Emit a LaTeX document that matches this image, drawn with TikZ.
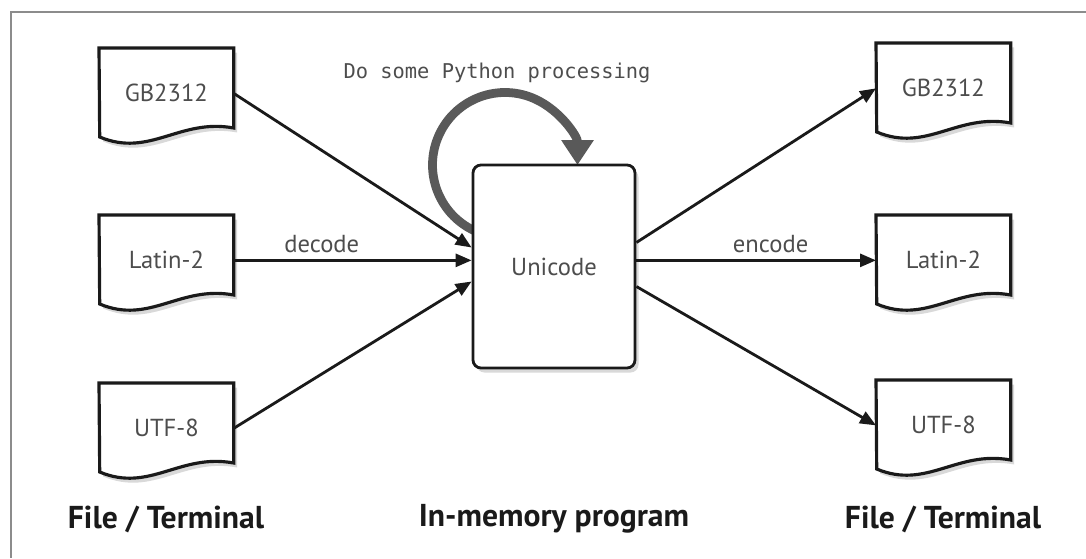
\documentclass[tikz,border=0pt]{standalone}
\usepackage{fontspec}
\setsansfont{PT Sans}
\setmonofont{DejaVu Sans Mono}
\usetikzlibrary{arrows.meta,shadows,backgrounds}

\definecolor{inkgray}{HTML}{4D4D4D}
\definecolor{loopgray}{HTML}{595959}
\definecolor{framegray}{HTML}{8C8C8C}
\definecolor{linegray}{HTML}{1A1A1A}

\tikzset{
  docnode/.style={minimum width=2.68cm, minimum height=1.8cm, inner sep=0pt,
    anchor=north west, font=\sffamily\fontsize{14}{16}\selectfont, text=inkgray},
  docline/.style={draw=linegray, line width=1.8pt, fill=white,
    drop shadow={shadow xshift=0.07cm, shadow yshift=-0.09cm, opacity=0.3}},
  flow/.style={draw=linegray, line width=1.6pt, -{Triangle[length=3.2mm,width=2.6mm]}},
  verb/.style={font=\sffamily\fontsize{14}{16}\selectfont, text=inkgray},
  caption/.style={font=\sffamily\bfseries\fontsize{18}{21}\selectfont, text=linegray},
}

% page with a wavy bottom, drawn round a docnode
\newcommand{\docpage}[1]{%
  \draw[docline] (#1.north west) -- (#1.north east) -- ++(0,-1.6)
    .. controls +(-1.08,0.2) and +(1.0,-0.42) .. ++(-2.68,-0.18) -- cycle;
}

\begin{document}
\begin{tikzpicture}

    \useasboundingbox (0,0) rectangle (21.72,11.16);

    % input and output files
    \node[docnode] (gbin)   at (1.98,10.2)  {GB2312};
    \node[docnode] (latin)  at (1.98,6.86)  {Latin-2};
    \node[docnode] (utfin)  at (1.98,3.5)   {UTF-8};
    \node[docnode] (gbout)  at (17.52,10.3) {GB2312};
    \node[docnode] (latout) at (17.52,6.86) {Latin-2};
    \node[docnode] (utfout) at (17.52,3.56) {UTF-8};

    \begin{scope}[on background layer]
        \draw[framegray, line width=0.8pt] (21.72,10.92) -- (0.22,10.92) -- (0.22,0);
        \docpage{gbin}
        \docpage{latin}
        \docpage{utfin}
        \docpage{gbout}
        \docpage{latout}
        \docpage{utfout}
    \end{scope}

    % processing loop
    \coordinate (loopc) at (10.1,7.86);
    \draw[loopgray, line width=5pt, -{Triangle[length=5mm,width=6.2mm]}]
        (loopc) ++(245:1.45) arc[start angle=245, end angle=0, radius=1.45];
    \node[font=\ttfamily\fontsize{11.6}{13}\selectfont, text=inkgray] (pytext)
        at (9.94,9.7) {Do some Python processing};

    \node[draw=linegray, line width=1.6pt, rounded corners=0.16cm, fill=white,
        drop shadow={shadow xshift=0.07cm, shadow yshift=-0.09cm, opacity=0.3},
        minimum width=3.24cm, minimum height=4.06cm, verb] (uni)
        at (11.08,5.83) {Unicode};

    % decode
    \draw[flow] (gbin.east) -- ([yshift=0.38cm]uni.west);
    \draw[flow] (latin.east) -- (latin.east -| uni.west)
        node[pos=0.37, above, verb] {decode};
    \draw[flow] (utfin.east) -- ([yshift=-0.3cm]uni.west);

    % encode
    \draw[flow] ([yshift=0.48cm]uni.east) -- (gbout.west);
    \draw[flow] (uni.east |- latout.west) -- (latout.west)
        node[pos=0.56, above, verb] {encode};
    \draw[flow] ([yshift=-0.4cm]uni.east) -- (utfout.west);

    \node[caption] (leftcap)  at (3.32,0.78)  {File / Terminal};
    \node[caption] (midcap)   at (11.08,0.78) {In-memory program};
    \node[caption] (rightcap) at (18.86,0.78) {File / Terminal};

\end{tikzpicture}
\end{document}
